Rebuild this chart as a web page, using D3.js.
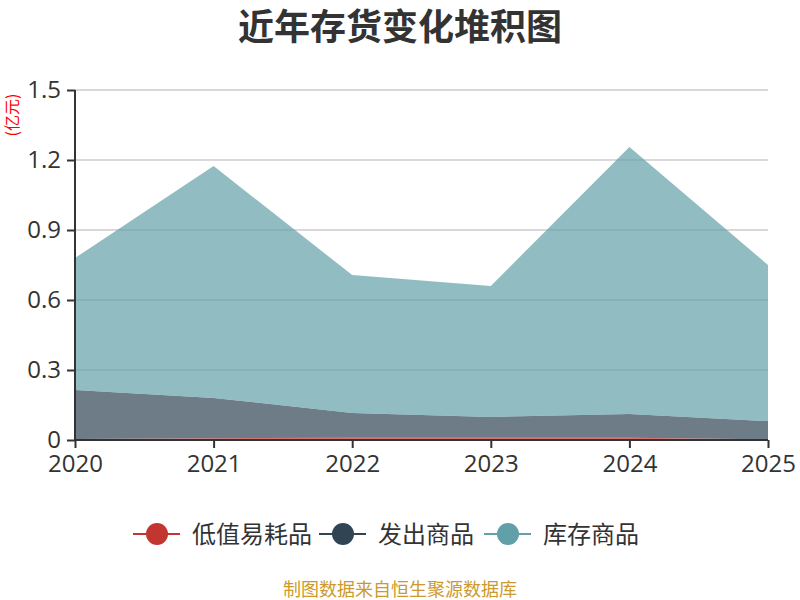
<!DOCTYPE html>
<html><head><meta charset="utf-8">
<script src="https://cdn.jsdelivr.net/npm/d3@7"></script>
<style>body{margin:0;background:#fff;}svg{display:block;font-family:"Noto Sans CJK SC","Noto Sans",sans-serif;}</style>
</head><body>
<svg id="c" width="800" height="600"></svg>
<script>
const years = ["2020","2021","2022","2023","2024","2025"];
const seriesNames = ["低值易耗品","发出商品","库存商品"];
const lowValue = [0.004, 0.008, 0.010, 0.010, 0.010, 0.003];
const shipped = [0.210, 0.172, 0.106, 0.089, 0.101, 0.078];
const stock = [0.566, 0.994, 0.591, 0.561, 1.145, 0.669];
const yTicks = [0, 0.3, 0.6, 0.9, 1.2, 1.5];
const colors = ["#c23531","#2f4554","#61a0a8"];

const svg = d3.select("#c");
const m = {l:75, r:32, t:90, b:160};
const W = 800, H = 600;
const x = d3.scalePoint().domain(years).range([m.l, W - m.r]);
const y = d3.scaleLinear().domain([0, 1.5]).range([H - m.b, m.t]);

const rows = years.map((yr,i)=>({year:yr, s0:lowValue[i], s1:shipped[i], s2:stock[i]}));
const stacked = d3.stack().keys(["s0","s1","s2"])(rows);

// grid
svg.append("g").selectAll("line").data(yTicks.filter(d=>d>0)).join("line")
  .attr("x1", m.l).attr("x2", W - m.r)
  .attr("y1", d=>y(d)).attr("y2", d=>y(d))
  .attr("stroke","#ccc").attr("stroke-width",1.5);

const area = d3.area().x(d=>x(d.data.year)).y0(d=>y(d[0])).y1(d=>y(d[1]));
svg.append("g").selectAll("path").data(stacked).join("path")
  .attr("d", area).attr("fill",(d,i)=>colors[i]).attr("fill-opacity",0.7);

// axes
const tickFont = "'Open Sans','Noto Sans',sans-serif";
const yAxis = d3.axisLeft(y).tickValues(yTicks).tickFormat(d=>d===0?"0":d3.format(".1f")(d)).tickSize(8).tickPadding(6);
const gy = svg.append("g").attr("transform",`translate(${m.l},0)`).call(yAxis);
gy.select(".domain").attr("stroke","#333").attr("stroke-width",2).attr("d",`M0,${y(0)}V${y(1.5)}`);
gy.selectAll(".tick line").attr("stroke","#333").attr("stroke-width",2);
gy.selectAll(".tick text").attr("fill","#333").style("font-size","24px").style("font-family",tickFont);

const xAxis = d3.axisBottom(x).tickSize(8).tickPadding(7);
const gx = svg.append("g").attr("transform",`translate(0,${y(0)})`).call(xAxis);
gx.select(".domain").attr("stroke","#333").attr("stroke-width",2).attr("d",`M${m.l},0H${W-m.r}`);
gx.selectAll(".tick line").attr("stroke","#333").attr("stroke-width",2);
gx.selectAll(".tick text").attr("fill","#333").style("font-size","24px").style("font-family",tickFont);

// title
svg.append("text").attr("x",400).attr("y",40).attr("text-anchor","middle")
  .attr("fill","#333").style("font-size","36px").style("font-weight","bold").text("近年存货变化堆积图");

// unit
svg.append("text").attr("transform","translate(18,115) rotate(-90)").attr("text-anchor","middle")
  .attr("fill","#ff0000").style("font-size","16px").text("(亿元)");

// legend
const legX = [133, 319, 484];
const lg = svg.append("g").selectAll("g").data(seriesNames).join("g")
  .attr("transform",(d,i)=>`translate(${legX[i]},534)`);
lg.append("line").attr("x1",0).attr("x2",47).attr("y1",0).attr("y2",0).attr("stroke",(d,i)=>colors[i]).attr("stroke-width",2);
lg.append("circle").attr("cx",24).attr("cy",0).attr("r",11).attr("fill",(d,i)=>colors[i]);
lg.append("text").attr("x",59).attr("y",9).attr("fill","#333").style("font-size","24px").text(d=>d);

// footer
svg.append("text").attr("x",400).attr("y",596).attr("text-anchor","middle")
  .attr("fill","#cc9a2c").style("font-size","18px").text("制图数据来自恒生聚源数据库");
</script>
</body></html>
